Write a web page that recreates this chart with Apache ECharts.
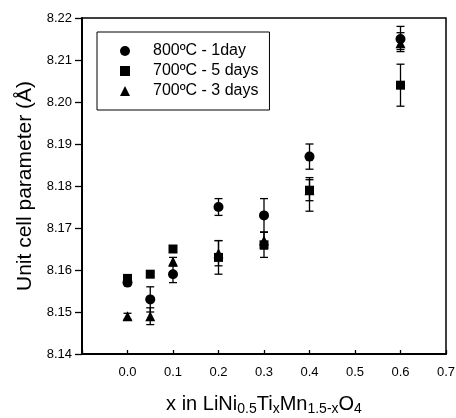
<!DOCTYPE html>
<html>
<head>
    <meta charset="utf-8">
    <title>Unit cell parameter</title>
    <script src="https://cdn.jsdelivr.net/npm/echarts@6/dist/echarts.min.js"></script>
</head>
<body style="margin:0">
    <div id="main" style="width: 456px;height:418px;"></div>
    <script type="text/javascript">
        var myChart = echarts.init(document.getElementById('main'));

        // x in LiNi0.5TixMn1.5-xO4
        var xVals = [0.0, 0.05, 0.1, 0.2, 0.3, 0.4, 0.6];

        // 800C - 1day
        var c1 = [8.157, 8.153, 8.159, 8.175, 8.173, 8.187, 8.215];
        var c1Lo = [8.1565, 8.150, 8.157, 8.173, 8.169, 8.184, 8.212];
        var c1Hi = [8.1575, 8.156, 8.161, 8.177, 8.177, 8.190, 8.218];

        // 700C - 5 days
        var c5 = [8.158, 8.159, 8.165, 8.163, 8.166, 8.179, 8.204];
        var c5Lo = [8.1575, 8.1585, 8.1645, 8.159, 8.163, 8.174, 8.199];
        var c5Hi = [8.1585, 8.1595, 8.1655, 8.167, 8.169, 8.182, 8.209];

        // 700C - 3 days
        var c3 = [8.149, 8.149, 8.162, 8.164, 8.167, 8.179, 8.214];
        var c3Lo = [8.1483, 8.147, 8.161, 8.161, 8.165, 8.1765, 8.2125];
        var c3Hi = [8.1497, 8.151, 8.163, 8.167, 8.169, 8.1815, 8.2165];

        function pts(ys) {
            return xVals.map(function (x, i) { return [x, ys[i]]; });
        }
        function bars(lo, hi) {
            return xVals.map(function (x, i) { return [x, lo[i], hi[i]]; });
        }

        // vertical error bar with small caps
        function errItem(params, api) {
            var p1 = api.coord([api.value(0), api.value(1)]);
            var p2 = api.coord([api.value(0), api.value(2)]);
            var w = 4;
            var st = { stroke: '#000', lineWidth: 1.3 };
            return {
                type: 'group',
                children: [
                    { type: 'line', shape: { x1: p1[0], y1: p1[1], x2: p2[0], y2: p2[1] }, style: st },
                    { type: 'line', shape: { x1: p1[0] - w, y1: p1[1], x2: p1[0] + w, y2: p1[1] }, style: st },
                    { type: 'line', shape: { x1: p2[0] - w, y1: p2[1], x2: p2[0] + w, y2: p2[1] }, style: st }
                ]
            };
        }

        var font = 'Liberation Sans, Arial, sans-serif';
        var mark = { color: '#000', opacity: 1 };

        option = {
            animation: false,
            textStyle: { fontFamily: font },
            grid: {
                left: 82, top: 18, width: 364, height: 336,
                outerBoundsMode: 'none', containLabel: false,
                show: true, borderColor: '#000', borderWidth: 1.5
            },
            legend: {
                left: 97, top: 32,
                orient: 'vertical',
                padding: [11, 11, 11, 23],
                itemGap: 4,
                itemWidth: 10, itemHeight: 10,
                borderColor: '#000', borderWidth: 1,
                textStyle: { fontFamily: font, fontSize: 16, lineHeight: 16, color: '#000', padding: [0, 0, 0, 18] },
                data: [
                    { name: '800ºC - 1day', icon: 'circle' },
                    { name: '700ºC - 5 days', icon: 'rect' },
                    { name: '700ºC - 3 days', icon: 'triangle' }
                ]
            },
            xAxis: {
                type: 'value',
                min: -0.1, max: 0.7, interval: 0.1,
                splitLine: { show: false },
                axisLine: { onZero: false, lineStyle: { color: '#000', width: 2 } },
                axisTick: { inside: true, length: 4, lineStyle: { color: '#000', width: 1.3 } },
                axisLabel: {
                    color: '#000', fontSize: 13, margin: 12,
                    formatter: function (v) { return v < -0.05 ? '' : v.toFixed(1); }
                },
                name: 'x in LiNi{s|0.5}Ti{s|x}Mn{s|1.5-x}O{s|4}',
                nameLocation: 'middle',
                nameGap: 38,
                nameTextStyle: {
                    color: '#000', fontSize: 20,
                    rich: { s: { fontSize: 14, padding: [10, 0, 0, 0], color: '#000' } }
                }
            },
            yAxis: {
                type: 'value',
                min: 8.14, max: 8.22, interval: 0.01,
                splitLine: { show: false },
                axisLine: { onZero: false, lineStyle: { color: '#000', width: 2 } },
                axisTick: { length: 7, lineStyle: { color: '#000', width: 1.3 } },
                axisLabel: {
                    color: '#000', fontSize: 13, margin: 10,
                    formatter: function (v) { return v.toFixed(2); }
                },
                name: 'Unit cell parameter (Å)',
                nameLocation: 'middle',
                nameGap: 36,
                nameTextStyle: { color: '#000', fontSize: 21 }
            },
            series: [
                { type: 'custom', renderItem: errItem, data: bars(c1Lo, c1Hi), encode: { x: 0, y: [1, 2] }, z: 1 },
                { type: 'custom', renderItem: errItem, data: bars(c5Lo, c5Hi), encode: { x: 0, y: [1, 2] }, z: 1 },
                { type: 'custom', renderItem: errItem, data: bars(c3Lo, c3Hi), encode: { x: 0, y: [1, 2] }, z: 1 },
                { name: '800ºC - 1day', type: 'scatter', symbol: 'circle', symbolSize: 10, data: pts(c1), itemStyle: mark, z: 3 },
                { name: '700ºC - 5 days', type: 'scatter', symbol: 'rect', symbolSize: 9, data: pts(c5), itemStyle: mark, z: 3 },
                { name: '700ºC - 3 days', type: 'scatter', symbol: 'triangle', symbolSize: 10, data: pts(c3), itemStyle: mark, z: 3 }
            ]
        };

        myChart.setOption(option);
    </script>
</body>
</html>
